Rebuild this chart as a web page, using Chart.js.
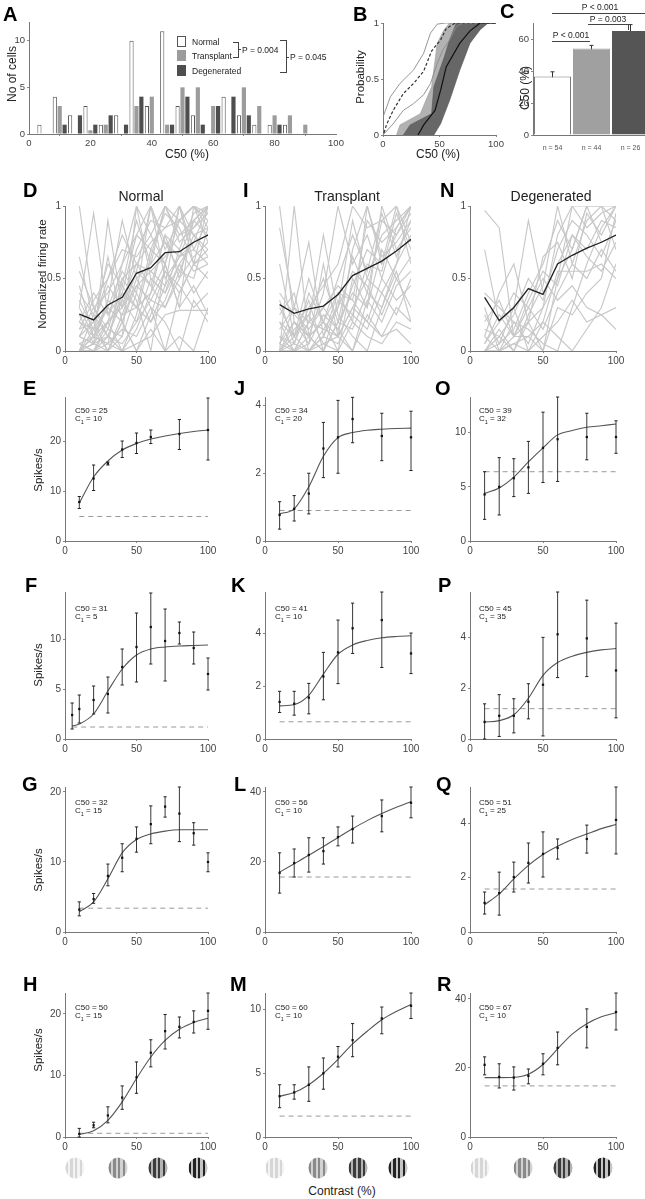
<!DOCTYPE html>
<html>
<head>
<meta charset="utf-8">
<script src="https://cdn.jsdelivr.net/npm/chart.js"></script>
<style>
  body { margin: 0; width: 645px; height: 1199px; overflow: hidden; background: #fff; position: relative;
         font-family: "Liberation Sans", Arial, sans-serif; color: #222; }
  .t { position: absolute; white-space: nowrap; line-height: 1; }
  .letter { position: absolute; font-weight: bold; font-size: 20px; line-height: 20px; color: #000; }
  .ln { position: absolute; background: #444; }
  .grat { position: absolute; width: 19px; height: 21px; border-radius: 50%; transform: translate(-50%, -50%); }
</style>
</head>
<body>
<script>
// ---------- data ----------

// A: histogram of C50 (bin centres, %)
const histBins = [5, 10, 15, 20, 25, 30, 35, 40, 45, 50, 55, 60, 65, 70, 75, 80, 85, 90];
const histNormal = [1, 4, 2, 3, 1, 2, 10, 3, 11, 3, 2, 0, 4, 2, 1, 1, 1, 0];
const histTransplant = [0, 3, 0, 0.4, 1, 0, 3, 4, 1, 5, 5, 3, 0, 5, 3, 2, 2, 1];
const histDegen = [0, 1, 2, 1, 2, 1, 4, 0, 1, 4, 1, 3, 4, 2, 0, 1, 0, 0];

// B: cumulative distributions
const normMeanX = [1, 3, 9, 18, 27, 36, 43, 51, 56, 64, 100];
const normMeanY = [0.02, 0.09, 0.22, 0.37, 0.46, 0.57, 0.75, 0.85, 0.95, 1, 1];
const normUpX = [0, 6.5, 15, 27, 36, 42, 48, 55, 100];
const normUpY = [0.16, 0.34, 0.46, 0.58, 0.73, 0.91, 0.99, 1, 1];
const normLowX = [0, 9, 18, 27, 36, 42, 48, 53, 59, 65, 71, 100];
const normLowY = [0, 0.1, 0.22, 0.28, 0.36, 0.46, 0.64, 0.76, 0.85, 0.97, 1, 1];
const transBandX = [12, 15, 33, 43, 48, 54, 59, 80, 74, 65, 59, 52, 45, 27];
const transBandY = [0, 0.09, 0.19, 0.43, 0.82, 0.94, 1, 1, 0.97, 0.82, 0.61, 0.34, 0.16, 0];
const degenBandX = [18, 24, 43, 45, 54, 59, 65, 93, 86, 77, 68, 59, 51, 45];
const degenBandY = [0, 0.09, 0.19, 0.43, 0.69, 0.85, 1, 1, 0.94, 0.82, 0.58, 0.31, 0.1, 0];
const degenMedX = [31, 36, 46, 51, 56, 68, 77, 86, 100];
const degenMedY = [0, 0.09, 0.22, 0.4, 0.61, 0.82, 0.93, 1, 1];

// C: mean C50 per group
const groupLabels = ['n = 54', 'n = 44', 'n = 26'];
const groupC50 = [36.5, 54, 65];
const groupLo = [33.5, 52, 61.5];
const groupHi = [39.5, 56, 69];

// D / I / N: normalized responses per cell
const cellContrast = [10, 20, 30, 40, 50, 60, 70, 80, 90, 100];
const normalCells = [
  [1.0, 0.3, 0.1, 0.4, 0.8, 1.0, 0.7, 0.9, 1.0, 0.95],
  [0.65, 0.2, 0.0, 0.2, 0.5, 0.6, 1.0, 0.8, 0.9, 1.0],
  [0.3, 0.95, 0.25, 0.4, 0.3, 0.7, 0.6, 1.0, 0.8, 0.85],
  [0.1, 0.05, 0.9, 0.3, 0.55, 0.45, 0.8, 0.7, 0.95, 1.0],
  [0.0, 0.1, 0.2, 0.35, 0.6, 0.75, 0.85, 0.9, 1.0, 0.9],
  [0.05, 0.0, 0.15, 0.1, 1.0, 0.5, 0.4, 0.6, 0.75, 0.8],
  [0.2, 0.15, 0.3, 0.55, 0.4, 1.0, 0.5, 0.65, 0.7, 0.6],
  [0.0, 0.05, 0.0, 0.25, 0.3, 0.2, 0.45, 1.0, 0.6, 0.7],
  [0.15, 0.35, 0.5, 0.7, 0.65, 0.8, 1.0, 0.75, 0.85, 1.0],
  [0.0, 0.0, 0.1, 0.05, 0.2, 0.35, 0.3, 0.5, 0.9, 1.0],
  [0.4, 0.25, 0.6, 0.45, 0.9, 0.6, 0.75, 0.55, 0.8, 0.7],
  [0.05, 0.1, 0.05, 0.0, 0.15, 0.4, 0.6, 0.3, 1.0, 0.75],
  [0.25, 0.05, 0.35, 0.9, 0.5, 0.3, 0.0, 0.4, 0.6, 0.5],
  [0.1, 0.2, 0.45, 0.3, 0.7, 0.9, 0.85, 1.0, 0.7, 0.9],
  [0.0, 0.1, 0.3, 0.2, 0.45, 0.55, 0.65, 0.8, 0.85, 0.95],
  [0.3, 0.1, 0.05, 0.5, 0.35, 0.0, 0.6, 0.3, 0.45, 0.25],
  [0.55, 0.3, 0.4, 0.6, 0.8, 0.7, 0.95, 0.85, 0.6, 1.0],
  [0.0, 0.0, 0.05, 0.15, 0.1, 0.3, 0.2, 0.0, 0.35, 0.2],
  [0.2, 0.4, 0.25, 0.5, 0.6, 0.45, 0.3, 0.55, 0.5, 0.85],
  [0.1, 0.05, 0.2, 0.0, 0.25, 0.65, 1.0, 0.9, 0.8, 0.65],
  [0.0, 0.25, 0.1, 0.35, 0.2, 0.5, 0.4, 0.7, 0.55, 0.6],
  [0.35, 0.15, 0.65, 0.2, 0.0, 0.25, 0.55, 0.45, 0.3, 0.4],
  [0.05, 0.0, 0.2, 0.6, 1.0, 0.8, 0.6, 0.9, 1.0, 0.85],
  [0.0, 0.15, 0.0, 0.1, 0.4, 0.2, 0.35, 0.6, 0.4, 0.55],
  [0.2, 0.1, 0.35, 0.25, 0.55, 1.0, 0.75, 0.65, 0.9, 0.8],
  [0.1, 0.3, 0.15, 0.45, 0.3, 0.4, 0.8, 0.5, 0.65, 0.75],
  [0.0, 0.05, 0.1, 0.0, 0.05, 0.1, 0.25, 0.28, 0.28, 0.28],
  [0.15, 0.2, 0.5, 0.8, 0.6, 0.55, 0.45, 0.65, 0.75, 1.0],
  [0.45, 0.1, 0.2, 0.3, 0.45, 0.35, 0.55, 0.4, 0.6, 0.65],
  [0.0, 0.0, 0.0, 0.2, 0.0, 0.15, 0.0, 0.1, 0.0, 0.3]
];
const transplantCells = [
  [1.0, 0.2, 0.05, 0.6, 0.1, 0.3, 0.5, 0.8, 0.9, 1.0],
  [0.85, 0.3, 0.75, 0.1, 0.4, 0.2, 1.0, 0.6, 0.8, 0.95],
  [0.0, 1.0, 0.1, 0.2, 0.0, 0.5, 0.3, 1.0, 0.7, 0.85],
  [0.1, 0.0, 0.2, 0.15, 0.3, 0.9, 0.5, 0.4, 0.6, 1.0],
  [0.0, 0.05, 0.0, 0.1, 0.05, 0.25, 0.6, 0.55, 0.95, 0.7],
  [0.3, 0.1, 0.35, 0.0, 0.2, 0.4, 0.3, 0.7, 0.5, 0.65],
  [0.05, 0.2, 0.1, 0.4, 1.0, 0.6, 0.8, 0.5, 0.85, 1.0],
  [0.2, 0.0, 0.05, 0.25, 0.15, 0.0, 0.35, 0.2, 0.45, 0.55],
  [0.0, 0.1, 0.5, 0.2, 0.1, 0.7, 1.0, 0.65, 0.75, 0.9],
  [0.4, 0.25, 0.15, 0.3, 0.45, 0.35, 0.2, 0.1, 0.3, 0.2],
  [0.0, 0.0, 0.1, 0.0, 0.2, 0.15, 0.4, 0.9, 1.0, 0.6],
  [0.15, 0.3, 0.2, 0.8, 0.25, 0.1, 0.0, 0.3, 0.6, 0.8],
  [0.6, 0.1, 0.0, 0.15, 0.1, 0.3, 0.2, 0.5, 0.35, 0.45],
  [0.0, 0.15, 0.25, 0.05, 0.0, 0.2, 0.1, 0.05, 0.2, 0.15],
  [0.1, 0.05, 0.3, 0.45, 0.6, 1.0, 0.85, 0.9, 0.8, 1.0],
  [0.25, 0.4, 0.0, 0.1, 0.3, 0.55, 0.45, 0.25, 0.5, 0.3],
  [0.05, 0.0, 0.2, 0.3, 0.15, 0.45, 0.7, 0.6, 1.0, 0.75],
  [0.0, 0.2, 0.1, 0.0, 0.35, 0.25, 0.15, 0.4, 0.25, 0.5],
  [0.35, 0.05, 0.4, 0.2, 0.5, 0.8, 0.55, 0.95, 0.65, 0.9],
  [0.0, 0.0, 0.0, 0.05, 0.1, 0.0, 0.25, 0.1, 0.15, 0.05],
  [0.2, 0.1, 0.25, 0.5, 0.2, 0.65, 0.4, 0.3, 0.55, 0.2],
  [0.05, 0.3, 0.1, 0.2, 0.4, 0.35, 0.9, 0.75, 0.85, 1.0]
];
const degenCells = [
  [0.97, 0.85, 0.1, 0.2, 0.3, 0.5, 1.0, 1.0, 1.0, 1.0],
  [0.7, 0.2, 0.3, 0.9, 0.4, 0.6, 0.8, 0.7, 0.9, 0.85],
  [0.0, 0.1, 0.0, 0.2, 0.0, 0.5, 0.7, 1.0, 1.0, 0.9],
  [0.1, 0.0, 0.2, 0.05, 0.3, 0.8, 1.0, 0.85, 0.95, 1.0],
  [0.2, 0.35, 0.1, 0.3, 0.15, 0.4, 0.6, 0.5, 0.7, 0.55],
  [0.0, 0.05, 0.15, 0.4, 0.6, 0.9, 0.7, 1.0, 0.75, 0.8],
  [0.3, 0.0, 0.05, 0.1, 0.2, 0.55, 0.55, 0.55, 0.6, 0.5],
  [0.05, 0.2, 0.4, 0.3, 0.5, 0.35, 0.45, 0.3, 0.25, 0.3],
  [0.0, 0.0, 0.05, 0.0, 0.1, 0.2, 0.35, 0.2, 0.25, 0.15],
  [0.15, 0.1, 0.25, 0.5, 0.35, 0.7, 0.9, 0.8, 0.65, 0.9],
  [0.4, 0.3, 0.2, 0.15, 0.05, 0.0, 0.3, 0.6, 0.85, 1.0],
  [0.0, 0.15, 0.0, 0.25, 0.45, 1.0, 0.6, 0.9, 1.0, 0.7],
  [0.25, 0.05, 0.3, 0.0, 0.2, 0.1, 0.0, 0.15, 0.3, 0.6],
  [0.05, 0.25, 0.1, 0.35, 0.55, 0.45, 0.8, 0.65, 0.55, 0.75],
  [0.0, 0.0, 0.1, 0.1, 0.0, 0.3, 0.25, 0.4, 0.5, 0.95],
  [0.1, 0.4, 0.6, 0.2, 0.65, 0.75, 0.5, 0.95, 0.8, 1.0]
];
const normalMean = [0.255, 0.214, 0.317, 0.37, 0.536, 0.575, 0.678, 0.685, 0.75, 0.80];
const transplantMean = [0.32, 0.26, 0.29, 0.31, 0.39, 0.52, 0.57, 0.62, 0.69, 0.77];
const degenMean = [0.37, 0.21, 0.30, 0.43, 0.39, 0.60, 0.66, 0.71, 0.75, 0.80];

// E-R: example cells, contrast response (spikes/s)
const fitC10 = [10, 20, 30, 40, 50, 60, 70, 80, 90, 100];
const fitC5 = [5, 10, 20, 30, 40, 50, 60, 70, 80, 90, 100];
const c8 = [10, 20, 30, 40, 50, 60, 80, 100];

const E_mean = [7.8, 12.5, 15.5, 18.3, 19.6, 20.8, 21.4, 22.2];
const E_lo = [6.5, 10.1, 15.2, 16.7, 17.5, 19.5, 18.3, 16.2];
const E_hi = [8.9, 15.2, 15.8, 20.0, 21.6, 22.2, 24.3, 28.6];
const E_fit = [7.6, 12.8, 16.0, 18.2, 19.5, 20.4, 21.0, 21.5, 21.9, 22.2];

const F_c = [5, 10, 20, 30, 40, 50, 60, 70, 80, 90, 100];
const F_mean = [2.4, 3.0, 3.9, 4.5, 7.2, 9.2, 11.2, 9.8, 10.6, 9.1, 6.5];
const F_lo = [1.0, 1.6, 2.5, 2.6, 5.4, 5.7, 7.5, 5.8, 9.5, 7.5, 4.9];
const F_hi = [3.6, 4.4, 5.3, 6.2, 9.0, 12.6, 14.6, 13.0, 11.7, 10.7, 8.1];
const F_fit = [1.3, 1.5, 2.5, 4.8, 7.0, 8.4, 9.0, 9.2, 9.3, 9.35, 9.4];

const G_c = [10, 20, 30, 40, 50, 60, 70, 80, 90, 100];
const G_mean = [3.2, 4.7, 8.0, 10.6, 13.3, 15.4, 17.9, 16.9, 14.1, 10.0];
const G_lo = [2.3, 4.1, 6.6, 8.6, 11.4, 12.6, 16.4, 12.9, 12.4, 8.6];
const G_hi = [4.3, 5.5, 9.7, 12.6, 15.0, 18.0, 19.3, 20.7, 15.6, 11.3];
const G_fit = [2.9, 4.3, 7.6, 11.3, 13.2, 14.0, 14.4, 14.6, 14.6, 14.6];

const H_c = [10, 20, 30, 40, 50, 60, 70, 80, 90, 100];
const H_mean = [0.5, 1.9, 3.5, 6.4, 9.7, 13.7, 17.2, 17.9, 18.7, 20.5];
const H_lo = [0.0, 1.5, 2.3, 4.5, 7.1, 11.4, 14.3, 16.1, 16.9, 17.5];
const H_hi = [1.4, 2.4, 4.9, 8.3, 12.2, 15.8, 19.9, 19.5, 20.5, 23.4];
const H_fit = [0.4, 1.0, 2.7, 5.7, 9.5, 13.0, 15.7, 17.5, 18.6, 19.3];

const J_mean = [0.77, 0.95, 1.4, 2.73, 3.06, 3.6, 3.1, 3.06];
const J_lo = [0.35, 0.59, 0.8, 1.87, 2.0, 2.9, 2.37, 2.08];
const J_hi = [1.16, 1.34, 2.0, 3.5, 4.15, 4.24, 3.77, 3.83];
const J_fit = [0.8, 0.95, 1.6, 2.5, 3.05, 3.2, 3.27, 3.3, 3.32, 3.33];

const K_mean = [1.4, 1.33, 1.56, 2.36, 3.27, 4.18, 4.49, 3.23];
const K_lo = [1.0, 0.9, 0.95, 1.48, 2.09, 3.23, 2.7, 2.47];
const K_hi = [1.8, 1.8, 2.1, 3.27, 4.49, 5.13, 5.55, 4.0];
const K_fit = [1.25, 1.3, 1.65, 2.45, 3.2, 3.55, 3.72, 3.82, 3.87, 3.9];

const L_mean = [16.9, 19.7, 22.0, 23.1, 27.1, 29.4, 33.1, 36.9];
const L_lo = [11.1, 15.7, 17.1, 19.4, 24.6, 25.4, 28.6, 32.6];
const L_hi = [22.6, 23.7, 26.9, 26.9, 30.0, 33.1, 37.7, 41.4];
const L_fit = [17.1, 19.5, 21.9, 24.4, 27.0, 29.5, 31.8, 33.8, 35.6, 37.2];

const M_mean = [3.2, 3.5, 4.1, 5.0, 6.3, 7.6, 9.3, 10.3];
const M_lo = [2.3, 2.97, 2.8, 3.75, 5.5, 6.3, 8.1, 9.3];
const M_hi = [4.1, 4.1, 5.5, 6.2, 7.1, 8.9, 10.2, 11.3];
const M_fit = [3.2, 3.5, 4.1, 5.0, 6.1, 7.3, 8.3, 9.2, 9.85, 10.4];

const O_mean = [4.3, 5.0, 5.8, 6.8, 8.6, 9.4, 9.6, 9.6];
const O_lo = [2.0, 2.4, 4.1, 4.4, 5.4, 5.5, 7.5, 8.1];
const O_hi = [6.4, 7.7, 7.6, 9.2, 11.9, 13.3, 11.8, 11.1];
const O_fit = [4.4, 4.9, 5.9, 7.3, 8.6, 9.8, 10.2, 10.5, 10.65, 10.8];

const P_mean = [0.67, 0.91, 0.91, 1.46, 2.13, 4.11, 3.95, 2.69];
const P_lo = [0.0, 0.1, 0.24, 0.79, 0.12, 2.41, 2.45, 0.83];
const P_hi = [1.38, 1.74, 1.58, 2.17, 3.99, 5.77, 5.45, 4.55];
const P_fit = [0.67, 0.72, 0.95, 1.6, 2.5, 3.0, 3.25, 3.4, 3.5, 3.55];

const Q_mean = [1.07, 1.43, 2.02, 2.54, 2.87, 3.09, 3.42, 4.12];
const Q_lo = [0.66, 0.62, 1.47, 1.8, 2.02, 2.68, 2.9, 2.87];
const Q_hi = [1.47, 2.2, 2.57, 3.27, 3.68, 3.42, 3.93, 5.33];
const Q_fit = [1.0, 1.4, 1.95, 2.45, 2.85, 3.15, 3.4, 3.6, 3.8, 3.95];

const R_mean = [20.9, 17.4, 17.2, 17.7, 21.2, 25.8, 31.9, 36.2];
const R_lo = [18.0, 14.2, 13.6, 15.4, 18.0, 20.9, 25.8, 31.0];
const R_hi = [23.2, 21.2, 20.3, 19.7, 24.1, 30.4, 37.1, 41.7];
const R_fit = [17.2, 17.2, 17.3, 18.2, 21.0, 25.5, 29.8, 32.8, 34.8, 36.0];

// spontaneous rate (dashed line) and fit parameters
const baselines = { E: 4.9, F: 1.2, G: 3.4, H: 0.6, J: 0.9, K: 0.65, L: 15.7, M: 1.64, O: 6.4, P: 1.19, Q: 1.58, R: 14.8 };
const c50Values = { E: 25, F: 31, G: 32, H: 50, J: 34, K: 41, L: 56, M: 60, O: 39, P: 45, Q: 51, R: 67 };
const c1Values = { E: 10, F: 5, G: 15, H: 15, J: 20, K: 10, L: 10, M: 10, O: 32, P: 35, Q: 25, R: 10 };

// ---------- helpers ----------
Chart.defaults.font.family = '"Liberation Sans", Arial, sans-serif';
Chart.defaults.color = '#444';
Chart.defaults.animation = false;
Chart.defaults.events = [];
Chart.defaults.plugins.legend.display = false;
Chart.defaults.plugins.tooltip.enabled = false;

const PAD_L = 40, PAD_T = 10, PAD_R = 12, PAD_B = 22;

// absolutely placed canvas so that the plot area lands on L..R / T..B
function place(L, T, R, B) {
  const d = document.createElement('div');
  d.style.cssText = 'position:absolute;left:' + (L - PAD_L) + 'px;top:' + (T - PAD_T) + 'px;width:' +
    (R - L + PAD_L + PAD_R) + 'px;height:' + (B - T + PAD_T + PAD_B) + 'px';
  const c = document.createElement('canvas');
  d.appendChild(c);
  document.body.appendChild(d);
  return c;
}
const layout = { padding: { left: 0, top: PAD_T, right: PAD_R, bottom: 0 }, autoPadding: false };

function axis(min, max, ticks, isX, size) {
  return {
    type: 'linear', min: min, max: max, offset: false,
    grid: { drawOnChartArea: false, tickLength: 2, color: '#888' },
    border: { color: '#777', width: 1 },
    ticks: { padding: 2, autoSkip: false, maxRotation: 0, color: '#444', font: { size: size || 10 },
             callback: v => String(v) },
    afterBuildTicks: s => { s.ticks = ticks.map(v => ({ value: v })); },
    afterFit: isX ? (s => { s.height = PAD_B; }) : (s => { s.width = PAD_L; })
  };
}

function pts(xs, ys) { return xs.map((x, i) => ({ x: x, y: ys[i] })); }

function errData(xs, lo, hi) {
  const out = [];
  xs.forEach((x, i) => { out.push({ x: x, y: lo[i] }, { x: x, y: hi[i] }, { x: x, y: null }); });
  return out;
}

function text(html, x, y, size, opt) {
  opt = opt || {};
  const e = document.createElement('div');
  e.className = 't';
  e.innerHTML = html;
  let tr = opt.left ? 'translate(0,-50%)' : 'translate(-50%,-50%)';
  if (opt.rot) tr += ' rotate(-90deg)';
  e.style.cssText = 'left:' + x + 'px;top:' + y + 'px;font-size:' + size + 'px;transform:' + tr + ';' + (opt.css || '');
  document.body.appendChild(e);
}
function letter(ch, x, capTop) {
  const e = document.createElement('div');
  e.className = 'letter';
  e.textContent = ch;
  e.style.left = x + 'px';
  e.style.top = (capTop - 3) + 'px';
  document.body.appendChild(e);
}
function hline(x1, x2, y) {
  const e = document.createElement('div');
  e.className = 'ln';
  e.style.cssText = 'left:' + x1 + 'px;top:' + y + 'px;width:' + (x2 - x1) + 'px;height:1px';
  document.body.appendChild(e);
}
function vline(x, y1, y2) {
  const e = document.createElement('div');
  e.className = 'ln';
  e.style.cssText = 'left:' + x + 'px;top:' + y1 + 'px;width:1px;height:' + (y2 - y1) + 'px';
  document.body.appendChild(e);
}

// ---------- A: histogram ----------
function barsFrom(vals) {
  return histBins.map((b, i) => ({ x: b, y: vals[i] })).filter(p => p.y > 0);
}
new Chart(place(29, 22, 336, 134), {
  type: 'bar',
  data: {
    datasets: [
      { data: barsFrom(histNormal), backgroundColor: '#fff', borderColor: '#555', borderWidth: 1 },
      { data: barsFrom(histTransplant), backgroundColor: '#9c9c9c', borderWidth: 0 },
      { data: barsFrom(histDegen), backgroundColor: '#4e4e4e', borderWidth: 0 }
    ]
  },
  options: {
    responsive: true, maintainAspectRatio: false, layout: layout,
    categoryPercentage: 0.96, barPercentage: 0.85,
    scales: { x: axis(0, 100, [0, 20, 40, 60, 80, 100], true, 9.5), y: axis(0, 12, [0, 5, 10], false, 9.5) }
  }
});

// ---------- B: cumulative probability ----------
// first dataset ends up on top, so lines first, light band last
new Chart(place(383, 23, 496, 135), {
  type: 'line',
  data: {
    datasets: [
      { data: pts(degenMedX, degenMedY), borderColor: '#111', borderWidth: 1.2, pointRadius: 0 },
      { data: pts(normMeanX, normMeanY), borderColor: '#333', borderWidth: 1.2, borderDash: [3, 2], pointRadius: 0 },
      { data: pts(normUpX, normUpY), borderColor: '#8a8a8a', borderWidth: 0.9, pointRadius: 0 },
      { data: pts(normLowX, normLowY), borderColor: '#8a8a8a', borderWidth: 0.9, pointRadius: 0 },
      { data: pts(degenBandX, degenBandY), fill: 'shape', backgroundColor: '#676767', borderColor: '#555', borderWidth: 0.6, pointRadius: 0 },
      { data: pts(transBandX, transBandY), fill: 'shape', backgroundColor: '#b2b2b2', borderColor: '#9a9a9a', borderWidth: 0.6, pointRadius: 0 }
    ]
  },
  options: {
    responsive: true, maintainAspectRatio: false, layout: layout,
    scales: { x: axis(0, 100, [0, 50, 100], true, 9.5), y: axis(0, 1, [0, 0.5, 1], false, 9.5) }
  }
});

// ---------- C: mean C50 ----------
const cErr = groupLabels.map((g, i) => ({
  type: 'line', data: [{ x: g, y: groupLo[i] }, { x: g, y: groupHi[i] }],
  borderColor: '#333', borderWidth: 1, pointStyle: 'line', pointRadius: 2, pointBorderColor: '#333', pointBorderWidth: 1
}));
new Chart(place(533, 23, 650, 135), {
  type: 'bar',
  data: {
    labels: groupLabels,
    datasets: [{
      data: groupC50, backgroundColor: ['#fff', '#a0a0a0', '#555'],
      borderColor: ['#777', '#a0a0a0', '#555'], borderWidth: 1, barPercentage: 0.95, categoryPercentage: 1
    }].concat(cErr)
  },
  options: {
    responsive: true, maintainAspectRatio: false, layout: layout,
    scales: {
      x: {
        type: 'category', grid: { display: false }, border: { color: '#777' },
        ticks: { padding: 1, color: '#555', font: { size: 7 }, autoSkip: false, maxRotation: 0 },
        afterFit: s => { s.height = PAD_B; }
      },
      y: axis(0, 70, [0, 20, 40, 60], false, 9.5)
    }
  }
});

// ---------- D / I / N ----------
const colL = [65, 265, 470], colR = [208, 411, 616];
[[normalCells, normalMean], [transplantCells, transplantMean], [degenCells, degenMean]].forEach((set, k) => {
  const ds = set[0].map(v => ({ data: pts(cellContrast, v), borderColor: '#c8c8c8', borderWidth: 1.15, pointRadius: 0 }));
  ds.push({ data: pts(cellContrast, set[1]), borderColor: '#222', borderWidth: 1.3, pointRadius: 0, order: -1 });
  new Chart(place(colL[k], 206, colR[k], 351), {
    type: 'line',
    data: { datasets: ds },
    options: {
      responsive: true, maintainAspectRatio: false, layout: layout,
      scales: { x: axis(0, 100, [0, 50, 100], true), y: axis(0, 1, [0, 0.5, 1], false) }
    }
  });
});

// ---------- E-R: contrast response panels ----------
const rowT = [397, 592, 787, 993], rowB = [541, 739, 932, 1137];
const panels = [
  ['E', 0, 0, c8, E_mean, E_lo, E_hi, fitC10, E_fit, 28.8, [0, 10, 20]],
  ['F', 0, 1, F_c, F_mean, F_lo, F_hi, fitC5, F_fit, 14.7, [0, 5, 10]],
  ['G', 0, 2, G_c, G_mean, G_lo, G_hi, fitC10, G_fit, 20.7, [0, 10, 20]],
  ['H', 0, 3, H_c, H_mean, H_lo, H_hi, fitC10, H_fit, 23.4, [0, 10, 20]],
  ['J', 1, 0, c8, J_mean, J_lo, J_hi, fitC10, J_fit, 4.25, [0, 2, 4]],
  ['K', 1, 1, c8, K_mean, K_lo, K_hi, fitC10, K_fit, 5.55, [0, 2, 4]],
  ['L', 1, 2, c8, L_mean, L_lo, L_hi, fitC10, L_fit, 41.4, [0, 20, 40]],
  ['M', 1, 3, c8, M_mean, M_lo, M_hi, fitC10, M_fit, 11.3, [0, 5, 10]],
  ['O', 2, 0, c8, O_mean, O_lo, O_hi, fitC10, O_fit, 13.3, [0, 5, 10]],
  ['P', 2, 1, c8, P_mean, P_lo, P_hi, fitC10, P_fit, 5.77, [0, 2, 4]],
  ['Q', 2, 2, c8, Q_mean, Q_lo, Q_hi, fitC10, Q_fit, 5.33, [0, 2, 4]],
  ['R', 2, 3, c8, R_mean, R_lo, R_hi, fitC10, R_fit, 41.7, [0, 20, 40]]
];
panels.forEach(p => {
  const [name, col, row, cs, mean, lo, hi, fc, fit, ymax, yt] = p;
  const base = baselines[name];
  new Chart(place(colL[col], rowT[row], colR[col], rowB[row]), {
    type: 'line',
    data: {
      datasets: [
        { data: pts(cs, mean), showLine: false, pointStyle: 'rect', pointRadius: 1.6, pointBackgroundColor: '#111', pointBorderWidth: 0 },
        { data: errData(cs, lo, hi), borderColor: '#222', borderWidth: 0.9, spanGaps: false,
          pointStyle: 'line', pointRadius: 1.6, pointBorderColor: '#222', pointBorderWidth: 1 },
        { data: pts(fc, fit), borderColor: '#555', borderWidth: 1.1, pointRadius: 0, cubicInterpolationMode: 'monotone' },
        { data: [{ x: cs[0], y: base }, { x: 100, y: base }], borderColor: '#9a9a9a', borderWidth: 1, borderDash: [5, 4], pointRadius: 0 }
      ]
    },
    options: {
      responsive: true, maintainAspectRatio: false, layout: layout,
      datasets: { line: { clip: false } },
      scales: { x: axis(0, 100, [0, 50, 100], true), y: axis(0, ymax, yt, false) }
    }
  });
  const capY = rowT[row] + [14, 17, 16, 15][row];
  const tx = [75, 275, 479][col];
  text('C50 = ' + c50Values[name], tx, capY, 8, { left: true });
  text('C<sub style="font-size:5.5px">1</sub> = ' + c1Values[name], tx, capY + 9, 8, { left: true });
});

// ---------- text, legends, annotations ----------
letter('A', 3, 7); letter('B', 353, 7); letter('C', 500, 4);
letter('D', 23, 183); letter('I', 243, 183); letter('N', 440, 183);
letter('E', 23, 381); letter('J', 234, 381); letter('O', 435, 381);
letter('F', 25, 578); letter('K', 231, 578); letter('P', 438, 578);
letter('G', 22, 777); letter('L', 234, 777); letter('Q', 436, 777);
letter('H', 23, 977); letter('M', 230, 977); letter('R', 437, 977);

text('No of cells', 12, 74, 12, { rot: true });
text('C50 (%)', 187, 154, 12);
text('Probability', 361, 77, 11.5, { rot: true });
text('C50 (%)', 438, 154, 12);
text('C50 (%)', 525, 88, 12, { rot: true });

text('Normal', 141, 196, 14);
text('Transplant', 347, 196, 14);
text('Degenerated', 551, 196, 14);
text('Normalized firing rate', 43, 274, 11.5, { rot: true });
[470, 665, 870, 1050].forEach(y => text('Spikes/s', 39, y, 11.5, { rot: true }));
text('Contrast (%)', 342, 1191, 12);

// A legend
const legendBoxes = [['Normal', '#fff', 36], ['Transplant', '#9c9c9c', 50], ['Degenerated', '#4e4e4e', 65]];
legendBoxes.forEach(l => {
  const b = document.createElement('div');
  b.style.cssText = 'position:absolute;left:177px;top:' + l[2] + 'px;width:7px;height:9px;background:' + l[1] +
    ';border:1px solid ' + (l[1] === '#fff' ? '#555' : l[1]);
  document.body.appendChild(b);
  text(l[0], 192, l[2] + 5.5, 8.5, { left: true });
});
hline(233, 238, 42); hline(233, 238, 57); vline(238, 42, 58); hline(238, 241, 49);
text('P = 0.004', 242, 49.5, 8.5, { left: true });
hline(280, 286, 40); hline(280, 286, 72); vline(286, 40, 73); hline(286, 289, 57);
text('P = 0.045', 290, 57, 8.5, { left: true });

// C significance bars
hline(552, 645, 13); text('P &lt; 0.001', 600, 7, 8.5);
hline(588, 628, 24); vline(628, 24, 30); text('P = 0.003', 608, 19, 8.5);
hline(552, 590, 41); text('P &lt; 0.001', 571, 35, 8.5);

// grating icons under the bottom row
const gratings = [
  ['#d6d6d6', '#f3f3f3'], ['#8a8a8a', '#d2d2d2'], ['#3c3c3c', '#b4b4b4'], ['#222', '#c4c4c4']
];
const gratOffsets = [10, 53, 93, 133];
colL.forEach(L => {
  gratings.forEach((g, i) => {
    const e = document.createElement('div');
    e.className = 'grat';
    e.style.left = (L + gratOffsets[i]) + 'px';
    e.style.top = '1168px';
    e.style.background = 'repeating-linear-gradient(90deg,' + g[0] + ' 0 2.4px,' + g[1] + ' 2.4px 4.8px)';
    document.body.appendChild(e);
  });
});
</script>
</body>
</html>
